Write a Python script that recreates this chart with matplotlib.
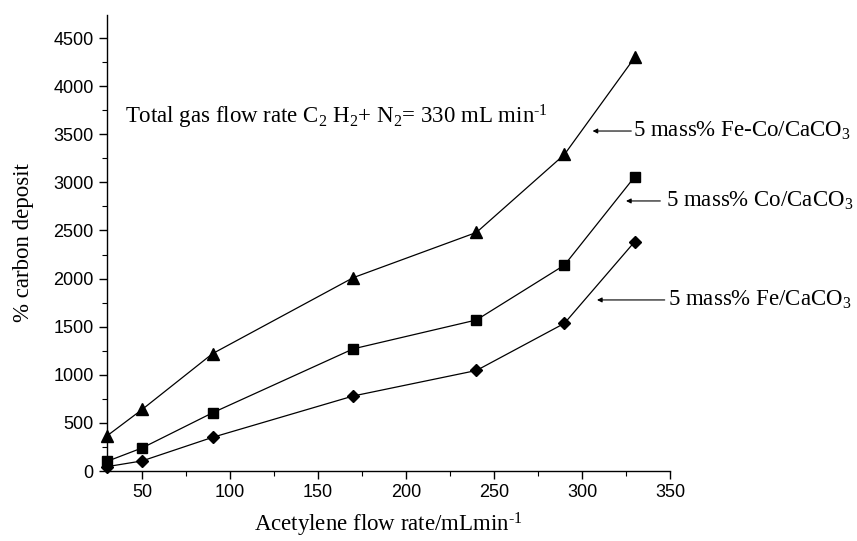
import matplotlib
matplotlib.use("Agg")
import matplotlib.pyplot as plt
from matplotlib.ticker import MultipleLocator

plt.rcParams['mathtext.fontset'] = 'custom'
plt.rcParams['mathtext.rm'] = 'Liberation Serif'
plt.rcParams['mathtext.it'] = 'Liberation Serif:italic'

x = [30, 50, 90, 170, 240, 290, 330]
fe_co = [365, 640, 1220, 2010, 2480, 3290, 4300]
co = [100, 240, 605, 1270, 1570, 2140, 3060]
fe = [45, 105, 350, 780, 1045, 1535, 2385]

labels = ["5 mass% Fe-Co/CaCO$_3$", "5 mass% Co/CaCO$_3$", "5 mass% Fe/CaCO$_3$"]
note = "Total gas flow rate C$_2$ H$_2$+ N$_2$= 330 mL min$^{\\text{-}1}$"
xlabel = "Acetylene flow rate/mLmin$^{\\text{-}1}$"
ylabel = "% carbon deposit"

fig = plt.figure(figsize=(8.57, 5.41), dpi=100)
ax = fig.add_axes([107/857, 1 - 471/541, (670-107)/857, (471-15)/541])

serif = 'Liberation Serif'
sans = 'Liberation Sans'
fs = 16.5

ax.plot(x, fe_co, '-', color='black', lw=0.9, marker='^', ms=8, clip_on=False, zorder=3)
ax.plot(x, co, '-', color='black', lw=0.9, marker='s', ms=7, clip_on=False, zorder=3)
ax.plot(x, fe, '-', color='black', lw=0.9, marker='D', ms=6.5, clip_on=False, zorder=3)

ax.set_xlim(30, 350)
ax.set_ylim(0, 4740)
ax.xaxis.set_major_locator(MultipleLocator(50))
ax.xaxis.set_minor_locator(MultipleLocator(25))
ax.yaxis.set_major_locator(MultipleLocator(500))
ax.yaxis.set_minor_locator(MultipleLocator(250))
ax.set_xticks([50, 100, 150, 200, 250, 300, 350])

for s in ['top', 'right']:
    ax.spines[s].set_visible(False)
for s in ['left', 'bottom']:
    ax.spines[s].set_linewidth(1.0)

ax.tick_params(which='major', direction='out', length=6, width=1.0, labelsize=13)
ax.tick_params(which='minor', direction='out', length=3.5, width=0.8)
for lab in ax.get_xticklabels() + ax.get_yticklabels():
    lab.set_fontfamily(sans)

ax.set_xlabel(xlabel, fontsize=fs, fontfamily=serif, labelpad=7)
ax.set_ylabel(ylabel, fontsize=fs, fontfamily=serif, labelpad=14)

ax.text(40.2, 3680, note, fontsize=fs, fontfamily=serif, va='center', ha='left')

arrow = dict(arrowstyle='-|>', color='black', lw=0.8, mutation_scale=7, shrinkA=0, shrinkB=0)
ax.annotate('', xy=(306, 3534), xytext=(328, 3534), arrowprops=arrow, annotation_clip=False)
ax.text(329, 3534, labels[0], fontsize=fs, fontfamily=serif, va='center', ha='left', clip_on=False)
ax.annotate('', xy=(325, 2807), xytext=(344.5, 2807), arrowprops=arrow, annotation_clip=False)
ax.text(347.6, 2807, labels[1], fontsize=fs, fontfamily=serif, va='center', ha='left', clip_on=False)
ax.annotate('', xy=(308.5, 1778), xytext=(347, 1778), arrowprops=arrow, annotation_clip=False)
ax.text(348.7, 1778, labels[2], fontsize=fs, fontfamily=serif, va='center', ha='left', clip_on=False)

fig.savefig('out.png', dpi=100)
